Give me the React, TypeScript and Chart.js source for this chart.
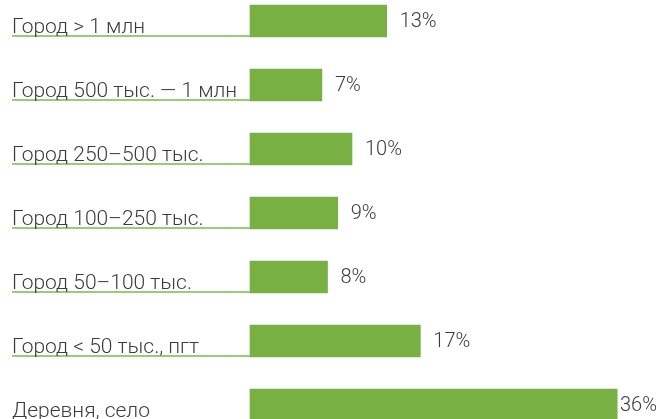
import React, { useEffect, useRef } from "react";
import { Chart, registerables } from "chart.js";

Chart.register(...registerables);

const categories = [
  "Город > 1 млн",
  "Город 500 тыс. — 1 млн",
  "Город 250–500 тыс.",
  "Город 100–250 тыс.",
  "Город 50–100 тыс.",
  "Город < 50 тыс., пгт",
  "Деревня, село",
];
const values = [13.4, 7.05, 10, 8.6, 7.6, 16.7, 36];
const valueLabels = ["13%", "7%", "10%", "9%", "8%", "17%", "36%"];

const BAR = "#78b043";
const LINE = "#7db84a";
const TEXT = "#3c3c3c";
const FONT = "Roboto, 'Noto Sans', sans-serif";

const labelPlugin = {
  id: "rowLabels",
  afterDatasetsDraw(chart: any) {
    const ctx = chart.ctx;
    const meta = chart.getDatasetMeta(0);
    const W = chart.width;
    ctx.save();
    meta.data.forEach((bar: any, i: number) => {
      const props = bar.getProps(["x", "y", "base", "height"], true);
      const bottom = props.y + props.height / 2;
      // underline
      ctx.strokeStyle = LINE;
      ctx.lineWidth = 1.5;
      ctx.beginPath();
      ctx.moveTo(12, bottom - 1);
      ctx.lineTo(props.base, bottom - 1);
      ctx.stroke();
      // category label
      ctx.fillStyle = TEXT;
      ctx.font = `300 21px ${FONT}`;
      ctx.textAlign = "left";
      ctx.textBaseline = "alphabetic";
      ctx.fillText(categories[i], 12, bottom - 4);
      // value label
      ctx.font = `300 20px ${FONT}`;
      ctx.textBaseline = "middle";
      const tw = ctx.measureText(valueLabels[i]).width;
      const x = Math.min(props.x + 13, W - 3 - tw);
      ctx.fillText(valueLabels[i], x, props.y + 0.5);
    });
    ctx.restore();
  },
};

export default function App() {
  const ref = useRef<HTMLCanvasElement | null>(null);
  useEffect(() => {
    document.body.style.margin = "0";
    if (!ref.current) return;
    const chart = new Chart(ref.current, {
      type: "bar",
      data: {
        labels: categories,
        datasets: [
          {
            data: values,
            backgroundColor: BAR,
            barThickness: 32,
            clip: false as any,
          },
        ],
      },
      options: {
        indexAxis: "y",
        animation: false,
        responsive: false,
        maintainAspectRatio: false,
        layout: { padding: { left: 250, right: 2, top: 21, bottom: 14 } },
        plugins: {
          legend: { display: false },
          tooltip: { enabled: false },
        },
        scales: {
          x: { display: false, min: 0, max: 40 },
          y: { display: false, offset: false },
        },
      },
      plugins: [labelPlugin],
    });
    return () => chart.destroy();
  }, []);
  return (
    <div style={{ width: 660, height: 419 }}>
      <canvas ref={ref} width={660} height={419} style={{ display: "block" }} />
    </div>
  );
}
